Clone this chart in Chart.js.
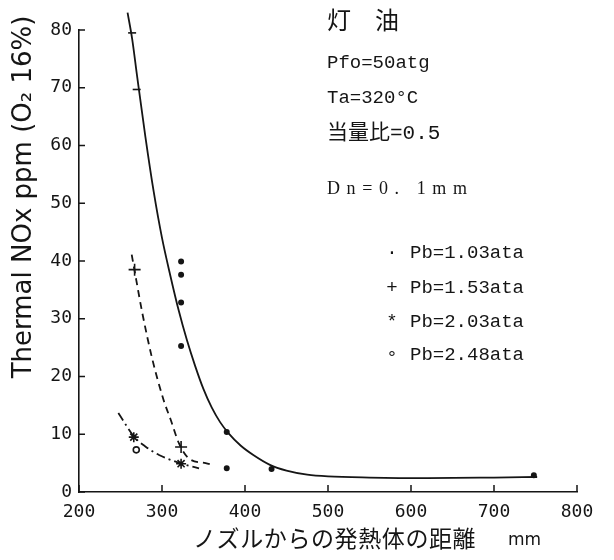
<!DOCTYPE html>
<html lang="ja">
<head>
<meta charset="UTF-8">
<title>Thermal NOx</title>
<style>
  body { margin: 0; background: #fff; }
  #wrap { width: 614px; height: 560px; }
</style>
</head>
<body>
<div id="wrap"><canvas id="myChart" width="614" height="560"></canvas></div>
<script src="https://cdn.jsdelivr.net/npm/chart.js"></script>
<script>
// axis ticks
const xTicks = [200, 300, 400, 500, 600, 700, 800];
const yTicks = [0, 10, 20, 30, 40, 50, 60, 70, 80];

const pb103X = [264, 269.5, 323, 323, 323, 323, 378, 378, 432, 748];
const pb103Y = [79.5, 69.7, 39.9, 37.6, 32.8, 25.3, 10.4, 4.1, 4.0, 2.9];
const pb153X = [267, 323];
const pb153Y = [38.5, 7.8];
const pb203X = [266, 323];
const pb203Y = [9.5, 4.9];
const pb248X = [269];
const pb248Y = [7.3];

// hand drawn curves
const fit103X = [258.5, 264, 270, 280, 290, 300, 310, 320, 330, 340, 350, 360, 370, 380, 395, 410, 430, 450, 475, 500, 550, 620, 700, 752];
const fit103Y = [83, 78.5, 72, 61.5, 52, 44, 37.5, 31.5, 26.3, 21.8, 17.8, 14.6, 12.1, 10.2, 8.0, 6.4, 4.7, 3.7, 3.0, 2.7, 2.5, 2.4, 2.5, 2.6];
const fit153X = [263.5, 269, 276, 288, 302, 310.5, 320.5, 332.5, 352.6, 362.7];
const fit153Y = [41.1, 36.7, 31.2, 23.2, 15.9, 12.5, 8.4, 5.8, 5.0, 4.6];
const fit203X = [247.4, 266.3, 280.3, 296.4, 316.5, 328.5, 344.6];
const fit203Y = [13.7, 9.6, 7.85, 6.4, 5.25, 4.7, 4.1];

const labels = ['Pb=1.03ata', 'Pb=1.53ata', 'Pb=2.03ata', 'Pb=2.48ata'];
const symbols = ['·', '+', '*', '°'];

const ink = '#151515';

function toXY(xs, ys) {
    return xs.map((x, i) => ({ x: x, y: ys[i] }));
}

function curve(xs, ys, dash) {
    return {
        type: 'line',
        data: toXY(xs, ys),
        borderColor: ink,
        borderWidth: 1.8,
        borderDash: dash,
        pointRadius: 0,
        cubicInterpolationMode: 'monotone',
        fill: false,
        clip: false
    };
}

function points(xs, ys, style, r, filled) {
    return {
        type: 'scatter',
        data: toXY(xs, ys),
        pointStyle: style,
        pointRadius: r,
        borderColor: ink,
        backgroundColor: filled ? ink : 'rgba(0,0,0,0)',
        pointBorderWidth: 1.6
    };
}

// axis ticks pointing inward + all the text notes
const notes = {
    id: 'notes',
    afterDraw(chart) {
        const c = chart.ctx;
        const xs = chart.scales.x, ys = chart.scales.y;
        const a = chart.chartArea;
        c.save();
        c.strokeStyle = ink;
        c.lineWidth = 1.5;
        c.beginPath();
        yTicks.forEach(v => {
            const py = ys.getPixelForValue(v);
            c.moveTo(a.left, py);
            c.lineTo(a.left + 6, py);
        });
        xTicks.forEach(v => {
            const px = xs.getPixelForValue(v);
            c.moveTo(px, a.bottom);
            c.lineTo(px, a.bottom - 7);
        });
        c.stroke();

        c.fillStyle = ink;
        c.textBaseline = 'middle';
        c.textAlign = 'left';

        // y title
        c.save();
        c.translate(24, 197);
        c.rotate(-Math.PI / 2);
        c.textAlign = 'center';
        c.font = '26px "DejaVu Sans"';
        c.fillText('Thermal NOx ppm (O₂ 16%)', 0, 0);
        c.restore();

        // x title
        c.font = '23px "Noto Sans CJK JP"';
        c.letterSpacing = '0.6px';
        c.fillText('ノズルからの発熱体の距離', 193, 538);
        c.letterSpacing = '0px';
        c.font = '17px "DejaVu Sans"';
        c.fillText('mm', 508, 541);

        // conditions
        c.font = '24px "Noto Sans CJK JP"';
        c.fillText('灯　油', 327, 20);
        c.font = '19px "Liberation Mono"';
        c.fillText('Pfo=50atg', 327, 63);
        c.fillText('Ta=320°C', 327, 98);
        c.font = '21px "Liberation Mono", "Noto Sans CJK JP"';
        c.fillText('当量比=0.5', 327, 133);
        c.font = '18px "Liberation Serif"';
        c.letterSpacing = '6.6px';
        c.fillText('Dn=0. 1mm', 327, 189);
        c.letterSpacing = '0px';

        // legend
        const rows = [253, 288, 322, 355];
        c.font = '19px "Liberation Mono"';
        labels.forEach((t, i) => {
            c.textAlign = 'center';
            c.fillText(symbols[i], 392, rows[i] + (i === 3 ? 3 : 0));
            c.textAlign = 'left';
            c.fillText(t, 410, rows[i]);
        });
        c.restore();
    }
};

const tickFont = { family: 'DejaVu Sans Mono', size: 18 };

// first two 1.03 points sit on the curve as short dashes
const dotStyles = pb103X.map((x, i) => i < 2 ? 'line' : 'circle');
const dotSizes = pb103X.map((x, i) => i < 2 ? 4 : 2.2);

const ctx = document.getElementById('myChart').getContext('2d');
const myChart = new Chart(ctx, {
    data: {
        datasets: [
            curve(fit103X, fit103Y, []),
            curve(fit153X, fit153Y, [7, 5]),
            curve(fit203X, fit203Y, [9, 4, 2, 4]),
            points(pb103X, pb103Y, dotStyles, dotSizes, true),
            points(pb153X, pb153Y, 'cross', 6, false),
            points(pb203X, pb203Y, 'star', 5, false),
            points(pb248X, pb248Y, 'circle', 3, false)
        ]
    },
    options: {
        responsive: false,
        animation: false,
        layout: { padding: { left: 0, right: 37, top: 30, bottom: 0 } },
        plugins: {
            legend: { display: false },
            tooltip: { enabled: false }
        },
        scales: {
            x: {
                type: 'linear',
                min: 200,
                max: 800,
                afterBuildTicks: s => { s.ticks = xTicks.map(v => ({ value: v })); },
                afterFit: s => { s.height = 68; },
                grid: { display: false, drawTicks: false },
                border: { display: true, color: ink, width: 1.6 },
                ticks: { font: tickFont, color: ink, padding: 10, maxRotation: 0 }
            },
            y: {
                type: 'linear',
                min: 0,
                max: 80,
                afterBuildTicks: s => { s.ticks = yTicks.map(v => ({ value: v })); },
                afterFit: s => { s.width = 79; },
                grid: { display: false, drawTicks: false },
                border: { display: true, color: ink, width: 1.6 },
                ticks: { font: tickFont, color: ink, padding: 7 }
            }
        }
    },
    plugins: [notes]
});
</script>
</body>
</html>
